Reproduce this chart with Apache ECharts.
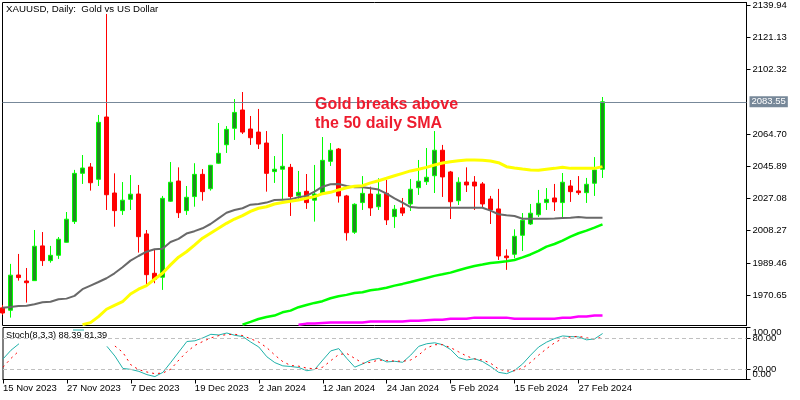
<!DOCTYPE html>
<html>
<head>
<meta charset="utf-8">
<title>XAUUSD</title>
<script src="https://cdn.jsdelivr.net/npm/echarts@6/dist/echarts.min.js"></script>
<style>
html, body { margin: 0; padding: 0; background: #fff; }
#chart { width: 800px; height: 400px; }
</style>
</head>
<body>
<div id="chart"></div>
<script>
// one date label every 8 bars, the rest of the axis stays unnamed
var tickDates = ["15 Nov 2023", "27 Nov 2023", "7 Dec 2023", "19 Dec 2023", "2 Jan 2024",
	"12 Jan 2024", "24 Jan 2024", "5 Feb 2024", "15 Feb 2024", "27 Feb 2024"];
var priceTicks = [2139.94, 2121.13, 2102.32, 2064.70, 2045.89, 2027.08, 2008.27, 1989.46, 1970.65];
var stochLevels = [20, 80];
var stochEnds = [0, 100];
var lastPrice = 2083.55;

var opens = [1963.2, 1961.8, 1982.4, 1978.9, 1979.1, 1999.4, 1990.8, 1993.9, 2001.5, 2013.6,
	2041.8, 2045.5, 2038.3, 2074.7, 2030.3, 2020.0, 2026.6, 2029.7, 2006.4, 1983.4,
	1981.1, 2025.5, 2037.3, 2020.0, 2028.2, 2041.2, 2032.8, 2047.7, 2058.5, 2068.1,
	2078.8, 2067.7, 2065.9, 2059.5, 2042.8, 2044.2, 2045.3, 2028.7, 2031.3, 2026.1,
	2030.1, 2048.8, 2056.0, 2028.6, 2007.4, 2024.7, 2029.7, 2022.3, 2030.1, 2016.5,
	2021.6, 2023.9, 2033.4, 2036.9, 2040.4, 2055.3, 2042.6, 2025.8, 2036.7, 2036.7,
	2035.6, 2026.8, 2021.0, 1993.5, 1994.5, 2005.6, 2012.2, 2017.6, 2024.7, 2027.4,
	2024.7, 2034.4, 2031.5, 2030.5, 2036.0, 2044.2];
var closes = [1960.2, 1982.3, 1980.9, 1977.9, 1999.2, 1990.8, 1993.9, 2003.3, 2015.0, 2041.8,
	2044.9, 2036.3, 2071.6, 2029.3, 2020.0, 2026.1, 2029.6, 2004.8, 1982.6, 1979.9,
	2027.2, 2036.6, 2018.8, 2027.8, 2041.2, 2031.1, 2046.5, 2053.5, 2067.5, 2077.4,
	2065.9, 2062.6, 2058.9, 2041.8, 2044.2, 2045.9, 2028.2, 2030.7, 2024.7, 2029.7,
	2049.4, 2055.3, 2028.6, 2007.1, 2023.7, 2030.1, 2021.6, 2029.6, 2014.6, 2020.8,
	2018.6, 2032.5, 2037.2, 2039.5, 2055.3, 2039.7, 2025.2, 2036.6, 2035.0, 2034.4,
	2023.9, 2020.4, 1993.5, 1992.5, 2005.0, 2014.4, 2018.5, 2024.3, 2026.6, 2025.1,
	2036.6, 2031.1, 2030.5, 2035.4, 2043.8, 2083.6];
var lows = [1959.1, 1957.5, 1979.1, 1966.3, 1978.9, 1987.7, 1989.6, 1991.8, 2001.3, 2012.2,
	2035.6, 2031.7, 2034.4, 2020.4, 2010.6, 2017.5, 2020.4, 1995.5, 1976.6, 1977.6,
	1973.7, 2025.1, 2015.7, 2017.5, 2022.3, 2025.8, 2031.7, 2047.3, 2053.7, 2061.3,
	2064.8, 2058.4, 2056.0, 2031.1, 2036.2, 2026.2, 2016.9, 2026.2, 2021.0, 2013.6,
	2029.7, 2046.1, 2024.7, 2002.5, 2006.4, 2020.4, 2016.9, 2020.4, 2011.6, 2009.9,
	2016.9, 2019.8, 2029.2, 2035.0, 2030.3, 2028.0, 2015.1, 2023.3, 2030.9, 2020.4,
	2021.6, 2012.2, 1991.2, 1985.4, 1992.2, 1996.4, 2011.6, 2016.3, 2020.4, 2019.8,
	2016.3, 2025.1, 2029.2, 2024.5, 2028.6, 2039.1];
var highs = [1964.9, 1988.9, 1994.7, 1986.5, 2008.7, 2007.5, 1999.4, 2004.6, 2019.2, 2043.8,
	2052.5, 2047.8, 2075.9, 2134.9, 2041.8, 2036.7, 2040.8, 2035.0, 2008.7, 1997.0,
	2028.6, 2048.4, 2045.3, 2034.4, 2047.7, 2044.3, 2046.7, 2071.2, 2069.4, 2085.2,
	2089.3, 2075.3, 2079.4, 2066.5, 2051.9, 2064.8, 2047.3, 2043.2, 2041.4, 2046.7,
	2063.0, 2059.5, 2056.6, 2029.2, 2024.3, 2040.2, 2034.0, 2038.9, 2037.9, 2023.3,
	2027.4, 2038.5, 2049.6, 2056.6, 2066.5, 2058.4, 2043.2, 2039.5, 2045.3, 2040.2,
	2036.7, 2028.6, 2032.7, 1997.4, 2009.1, 2018.6, 2023.9, 2032.1, 2033.2, 2035.6,
	2042.0, 2037.9, 2040.2, 2039.1, 2051.3, 2086.4];

// dark grey moving average
var smaGrey = [1963.3, 1963.7, 1964.3, 1964.5, 1965.3, 1966.5, 1966.8, 1968.2, 1968.6, 1970.2,
	1974.1, 1976.2, 1978.3, 1980.5, 1983.4, 1986.9, 1990.8, 1993.5, 1996.0, 1997.4,
	1997.8, 2001.7, 2003.5, 2006.6, 2008.0, 2009.7, 2012.2, 2015.5, 2018.8, 2020.4,
	2021.4, 2023.5, 2023.9, 2024.7, 2026.2, 2026.4, 2026.6, 2027.8, 2028.6, 2031.1,
	2034.0, 2035.4, 2035.6, 2034.4, 2033.6, 2033.6, 2033.1, 2032.3, 2029.9, 2027.2,
	2024.7, 2022.1, 2021.7, 2021.7, 2021.7, 2021.7, 2021.7, 2021.7, 2021.7, 2021.7,
	2021.7, 2020.0, 2017.9, 2017.3, 2016.9, 2015.3, 2015.3, 2015.3, 2015.3, 2015.4,
	2015.7, 2015.9, 2016.3, 2015.9, 2015.9, 2015.9];
// yellow 50 SMA, starts under the bottom of the pane
var smaYellow = [null, null, null, null, null, null, null, null, null, null,
	1953.4, 1954.6, 1958.1, 1962.4, 1964.7, 1966.8, 1971.3, 1974.1, 1976.2, 1979.9,
	1983.4, 1988.3, 1992.8, 1996.0, 1999.9, 2003.9, 2006.8, 2009.7, 2012.6, 2015.1,
	2017.1, 2019.6, 2021.4, 2022.3, 2023.9, 2024.7, 2025.5, 2026.2, 2027.2, 2028.2,
	2029.9, 2030.7, 2032.1, 2033.4, 2034.2, 2034.6, 2036.2, 2037.5, 2038.9, 2040.4,
	2041.8, 2043.2, 2044.2, 2045.3, 2046.7, 2047.8, 2048.6, 2049.2, 2049.6, 2049.6,
	2049.4, 2049.0, 2048.0, 2045.7, 2044.9, 2044.3, 2043.8, 2043.6, 2044.2, 2044.7,
	2045.3, 2044.7, 2044.7, 2044.7, 2044.7, 2045.7];
var smaLime = [null, null, null, null, null, null, null, null, null, null,
	null, null, null, null, null, null, null, null, null, null,
	null, null, null, null, null, null, null, null, null, null,
	1953.4, 1955.0, 1956.7, 1957.9, 1958.7, 1960.6, 1961.6, 1963.6, 1964.9, 1966.1,
	1967.1, 1968.8, 1970.0, 1970.8, 1971.9, 1972.3, 1973.5, 1974.1, 1975.0, 1976.2,
	1977.2, 1978.3, 1979.5, 1980.7, 1981.9, 1982.8, 1983.8, 1985.2, 1986.5, 1987.7,
	1988.5, 1989.4, 1989.9, 1990.4, 1991.2, 1992.7, 1994.4, 1996.5, 1999.0, 2000.5,
	2002.5, 2004.8, 2006.8, 2008.3, 2010.1, 2012.0];
var smaMagenta = [null, null, null, null, null, null, null, null, null, null,
	null, null, null, null, null, null, null, null, null, null,
	null, null, null, null, null, null, null, null, null, null,
	null, null, null, null, null, null, null, 1953.4, 1954.0, 1954.0,
	1954.3, 1954.6, 1954.6, 1954.6, 1954.6, 1954.6, 1955.2, 1955.2, 1955.2, 1955.2,
	1955.2, 1955.7, 1955.7, 1956.0, 1956.3, 1956.3, 1956.9, 1956.9, 1956.9, 1957.5,
	1957.5, 1957.5, 1957.5, 1957.5, 1956.9, 1956.9, 1956.9, 1956.9, 1956.9, 1956.9,
	1957.4, 1957.4, 1958.1, 1958.1, 1958.7, 1958.7];

// stochastic, the nulls sit behind the indicator caption
var stochMain = [39.4, 56.3, 68.75, null, null, null, null, null, null, null,
	null, null, null, 63.75, 45, 21.25, 19.4, 15.6, 9.4, 5.6,
	13.75, 33.1, 53.1, 73.1, 74.4, 80, 86.9, 85.6, 89.4, 85,
	82.5, 71.9, 62.5, 43.75, 32.5, 26.25, 25, 23.1, 16.9, 19.4,
	37.5, 55, 59.4, 40.6, 23.75, 30, 37.5, 40.6, 33.75, 35,
	33.1, 46.9, 63.75, 68.75, 70.6, 66.9, 57.5, 41.9, 37.5, 40,
	34.4, 25, 13.75, 11.25, 17.5, 30, 46.9, 62.5, 71.9, 78.75,
	83.75, 82.5, 81.9, 76.25, 78.1, 88.39];
var stochSignal = [23.75, 40.6, 55, null, null, null, null, null, null, null,
	null, null, null, null, 64.4, 51.9, 28.1, 18.75, 14.4, 11.25,
	12.5, 20, 37.5, 53.1, 65.6, 73.1, 80, 84.4, 86.25, 86.9,
	84.4, 78.1, 71.9, 61.25, 46.9, 34.4, 26.9, 25.6, 21.9, 20.6,
	23.75, 36.25, 48.1, 50, 40.6, 31.25, 33.1, 37.5, 36.25, 35.6,
	35, 37.5, 46.9, 60.6, 66.9, 66.9, 61.25, 53.1, 45, 39.4,
	37.5, 31.25, 20, 16.25, 16.9, 21.9, 33.1, 46.9, 59.4, 70.6,
	78.75, 81.9, 83.1, 80, 78.1, 81.39];

var barsPerDate = 8;
var slots = 94;
var categories = [];
for (var i = 0; i < slots; i++) {
	categories.push(i % barsPerDate == 0 && tickDates[i / barsPerDate] ? tickDates[i / barsPerDate] : "");
}
var candles = opens.map(function(o, i) {
	return [o, closes[i], lows[i], highs[i]];
});
function isDateSlot(index) {
	return categories[index] !== "";
}
var axisFont = { color: "#000", fontFamily: "Liberation Sans", fontSize: 9.5 };

function maSeries(name, data, color, width) {
	return {
		name: name, type: "line", data: data, showSymbol: false, symbol: "none",
		lineStyle: { color: color, width: width }
	};
}

var myChart = echarts.init(document.getElementById("chart"));
var option = {
	animation: false,
	backgroundColor: "#fff",
	grid: [
		{ left: 2.5, right: 53.5, top: 2.5, height: 323, show: true, borderColor: "#000", borderWidth: 1 },
		{ left: 2.5, right: 53.5, top: 327.5, height: 52, show: true, borderColor: "#000", borderWidth: 1 }
	],
	xAxis: [
		{
			type: "category", gridIndex: 0, data: categories, boundaryGap: false,
			axisLine: { show: false }, axisTick: { show: false }, axisLabel: { show: false }, splitLine: { show: false }
		},
		{
			type: "category", gridIndex: 1, data: categories, boundaryGap: false,
			axisLine: { lineStyle: { color: "#000" } },
			axisTick: { length: 4, interval: function(index) { return isDateSlot(index); }, lineStyle: { color: "#000" } },
			axisLabel: {
				color: "#000", fontFamily: "Liberation Sans", fontSize: 9.5, margin: 4, align: "left",
				interval: function(index) { return isDateSlot(index); }
			},
			splitLine: { show: false }
		}
	],
	yAxis: [
		{
			type: "value", gridIndex: 0, position: "right", min: 1952.9, max: 2141.6, scale: true,
			axisLine: { show: true, lineStyle: { color: "#000" } },
			axisTick: { show: true, length: 4, customValues: priceTicks, lineStyle: { color: "#000" } },
			axisLabel: Object.assign({ customValues: priceTicks, margin: 6, formatter: function(v) { return v.toFixed(2); } }, axisFont),
			splitLine: { show: false }
		},
		{
			type: "value", gridIndex: 1, position: "right", min: 0, max: 100,
			axisLine: { show: true, lineStyle: { color: "#000" } },
			axisTick: { show: true, length: 4, customValues: stochLevels, lineStyle: { color: "#000" } },
			axisLabel: Object.assign({ customValues: stochLevels, margin: 6, formatter: function(v) { return v.toFixed(2); } }, axisFont),
			splitLine: { show: false }
		},
		// 0 and 100 sit on their own axis, their labels overlap the 20 and 80 ones like in MT4
		{
			type: "value", gridIndex: 1, position: "right", offset: 0, min: 0, max: 100,
			axisLine: { show: false },
			axisTick: { show: true, length: 4, customValues: stochEnds, lineStyle: { color: "#000" } },
			axisLabel: Object.assign({
				customValues: stochEnds, margin: 6, showMinLabel: true, showMaxLabel: true,
				verticalAlignMaxLabel: "top", verticalAlignMinLabel: "bottom",
				formatter: function(v) { return v.toFixed(2); }
			}, axisFont),
			splitLine: { show: false }
		}
	],
	series: [
		{
			name: "XAUUSD", type: "candlestick", data: candles, barWidth: 4,
			itemStyle: { color: "#228B22", color0: "#ff0000", borderColor: "#00ff00", borderColor0: "#ff0000", borderWidth: 1 },
			markLine: {
				silent: true, symbol: "none", animation: false,
				lineStyle: { color: "#778899", width: 1, type: "solid" },
				label: {
					position: "end", distance: 3, color: "#fff", backgroundColor: "#778899",
					fontFamily: "Liberation Sans", fontSize: 9.5, padding: [1, 2, 0, 2],
					formatter: function() { return lastPrice.toFixed(2); }
				},
				data: [{ yAxis: lastPrice }]
			}
		},
		maSeries("SMA grey", smaGrey, "#696969", 2),
		maSeries("SMA 50", smaYellow, "#ffff00", 3),
		maSeries("SMA lime", smaLime, "#00ff00", 2.5),
		maSeries("SMA magenta", smaMagenta, "#ff00ff", 2.5),
		{
			name: "Stoch", type: "line", xAxisIndex: 1, yAxisIndex: 1, data: stochMain, symbol: "none",
			lineStyle: { color: "#20B2AA", width: 1 },
			markLine: {
				silent: true, symbol: "none", animation: false, label: { show: false },
				lineStyle: { color: "#c0c0c0", width: 1, type: [4, 3] },
				data: [{ yAxis: 80 }, { yAxis: 20 }]
			}
		},
		{
			name: "Signal", type: "line", xAxisIndex: 1, yAxisIndex: 1, data: stochSignal, symbol: "none",
			lineStyle: { color: "#ff0000", width: 1, type: [2, 4] }
		}
	],
	graphic: [
		{ type: "text", left: 6, top: 4, style: { text: "XAUUSD, Daily:  Gold vs US Dollar", fill: "#000", font: "9.7px 'Liberation Sans'" } },
		{ type: "text", left: 6, top: 331, style: { text: "Stoch(8,3,3) 88.39 81.39", fill: "#000", font: "9.2px 'Liberation Sans'" } },
		{ type: "line", shape: { x1: 73, y1: 330, x2: 84, y2: 330 }, style: { stroke: "#20B2AA", lineWidth: 1 } },
		{
			type: "text", left: 315, top: 95, z: 20,
			style: { text: "Gold breaks above\nthe 50 daily SMA", fill: "#ee1c2e", font: "bold 16px 'Liberation Sans'", lineHeight: 19 }
		}
	]
};
myChart.setOption(option);
</script>
</body>
</html>
